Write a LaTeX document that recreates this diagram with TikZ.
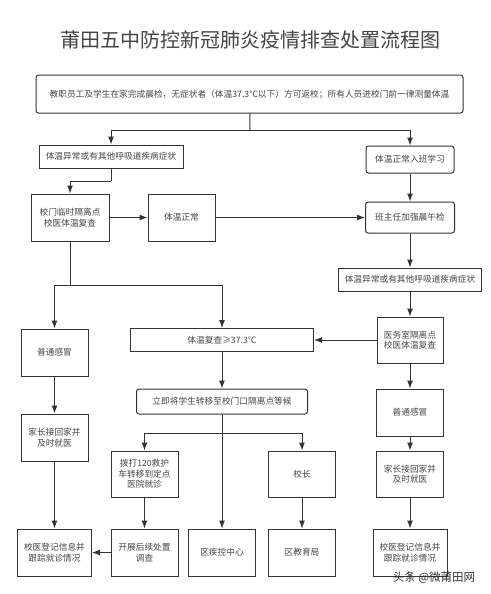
\documentclass[tikz,border=0pt]{standalone}
\usepackage{fontspec}
\setmainfont{Noto Sans CJK SC}
\usetikzlibrary{arrows.meta}
\definecolor{ink}{HTML}{333333}
\definecolor{txt}{HTML}{444444}
\begin{document}
\begin{tikzpicture}[x=1pt,y=-1pt,
  box/.style={draw=ink,line width=1pt,text=txt,align=center,inner sep=1pt,
    font=\fontsize{8.7}{10.5}\selectfont},
  rbox/.style={box,rounded corners=2.5pt},
  sq/.style={box,minimum width=67pt,minimum height=47pt},
  ln/.style={draw=ink,line width=1pt},
  arr/.style={ln,-{Latex[length=8pt,width=6pt]}}]
\useasboundingbox (0,0) rectangle (490,594);
\node[text=txt,font=\fontsize{20}{24}\selectfont] (title) at (250,40) {莆田五中防控新冠肺炎疫情排查处置流程图};
\node[rbox,minimum width=427pt,minimum height=38pt] (top) at (249.5,94) {教职员工及学生在家完成晨检，无症状者（体温37.3℃以下）方可返校；所有人员进校门前一律测量体温};
\node[box,minimum width=144pt,minimum height=23pt] (abn1) at (111,156.5) {体温异常或有其他呼吸道疾病症状};
\node[rbox,minimum width=88pt,minimum height=27pt] (norm1) at (410,159.5) {体温正常入班学习};
\node[sq,minimum width=78pt] (gate) at (70,217.5) {校门临时隔离点\\校医体温复查};
\node[sq] (ok) at (181.5,217.5) {体温正常};
\node[rbox,minimum width=89pt,minimum height=31pt] (morning) at (410,217.5) {班主任加强晨午检};
\node[box,minimum width=143pt,minimum height=23pt] (abn2) at (410,279.5) {体温异常或有其他呼吸道疾病症状};
\node[sq] (cold1) at (54.5,352.5) {普通感冒};
\node[box,minimum width=183pt,minimum height=23pt] (recheck) at (222,340) {体温复查≥37.3℃};
\node[sq,minimum width=66pt,minimum height=46pt] (clinic) at (410,340) {医务室隔离点\\校医体温复查};
\node[rbox,minimum width=171pt,minimum height=25pt] (move) at (222,401.5) {立即将学生转移至校门口隔离点等候};
\node[sq] (cold2) at (410,412.5) {普通感冒};
\node[sq] (home1) at (54.5,437.5) {家长接回家并\\及时就医};
\node[sq,minimum height=46pt] (call) at (144.5,474) {拨打120救护\\车转移到定点\\医院就诊};
\node[sq,minimum height=46pt] (head) at (302,474) {校长};
\node[sq,minimum height=46pt] (home2) at (410,474) {家长接回家并\\及时就医};
\node[sq,minimum width=74pt] (reg1) at (54.5,552.5) {校医登记信息并\\跟踪就诊情况};
\node[sq] (follow) at (144.5,552.5) {开展后续处置\\调查};
\node[sq] (cdc) at (222,552.5) {区疾控中心};
\node[sq] (edu) at (302,552.5) {区教育局};
\node[sq,minimum width=74pt] (reg2) at (410,552.5) {校医登记信息并\\跟踪就诊情况};
\node[text=ink,font=\fontsize{11.5}{14}\selectfont] (mark) at (434,578) {头条 @微莆田网};
\coordinate (s1) at (250,130);
\coordinate (s2) at (111,181);
\coordinate (s3) at (70,285);
\coordinate (s4) at (222,433);
\draw[ln] (top) -- (s1);
\draw[arr] (s1) -| (abn1);
\draw[arr] (s1) -| (norm1);
\draw[ln] (abn1) -- (s2);
\draw[arr] (s2) -| (gate);
\draw[arr] (gate) -- (ok);
\draw[arr] (ok) -- (morning);
\draw[arr] (norm1) -- (morning);
\draw[arr] (morning) -- (abn2);
\draw[arr] (abn2) -- (clinic);
\draw[ln] (gate) -- (s3);
\draw[arr] (s3) -| (cold1);
\draw[arr] (s3) -| (recheck);
\draw[arr] (clinic) -- (recheck);
\draw[arr] (clinic) -- (cold2);
\draw[arr] (cold2) -- (home2);
\draw[arr] (home2) -- (reg2);
\draw[arr] (cold1) -- (home1);
\draw[arr] (home1) -- (reg1);
\draw[arr] (recheck) -- (move);
\draw[arr] (move) -- (cdc);
\draw[arr] (s4) -| (call);
\draw[arr] (s4) -| (head);
\draw[arr] (call) -- (follow);
\draw[arr] (head) -- (edu);
\draw[arr] (follow) -- (reg1);
\end{tikzpicture}
\end{document}
